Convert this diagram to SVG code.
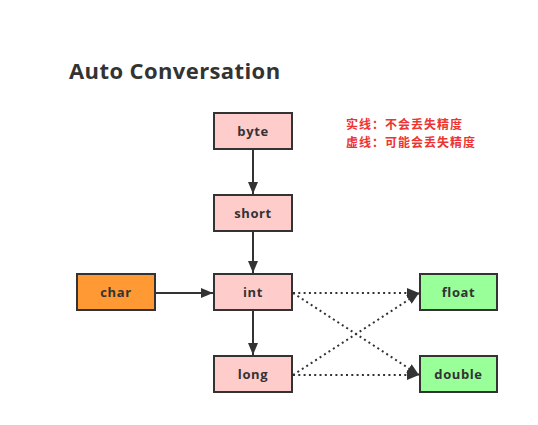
<svg xmlns="http://www.w3.org/2000/svg" width="538" height="425" viewBox="0 0 538 425">
<style>
.box{stroke:#333;stroke-width:2}
.pink{fill:#ffcccc}
.orange{fill:#ff9933}
.green{fill:#99ff99}
.lbl{font-family:"Open Sans","Noto Sans",sans-serif;font-weight:bold;font-size:13px;fill:#333;text-anchor:middle;letter-spacing:0.6px}
.title{font-family:"Open Sans","Noto Sans",sans-serif;font-weight:bold;font-size:22px;fill:#333;letter-spacing:0.4px}
.note{font-family:"Noto Sans CJK SC",sans-serif;font-weight:bold;font-size:12px;fill:#ee3333;letter-spacing:1px}
.solid{stroke:#333;stroke-width:2;fill:none}
.dot{stroke:#333;stroke-width:2;fill:none;stroke-dasharray:2 3.3}
</style>
<defs>
<marker id="arr" viewBox="0 0 12 10" refX="12" refY="5" markerWidth="12" markerHeight="10" markerUnits="userSpaceOnUse" orient="auto">
<path d="M0,0 L12,5 L0,10 Z" fill="#333"/>
</marker>
</defs>
<rect width="538" height="425" fill="#fff"/>
<text class="title" x="69" y="79">Auto Conversation</text>
<text class="note" x="346" y="129">实线：不会丢失精度</text>
<text class="note" x="346" y="146.6">虚线：可能会丢失精度</text>
<g id="connectors">
<line class="solid" x1="253" y1="150" x2="253" y2="194" marker-end="url(#arr)"/>
<line class="solid" x1="253" y1="232" x2="253" y2="273" marker-end="url(#arr)"/>
<line class="solid" x1="156" y1="293" x2="213" y2="293" marker-end="url(#arr)"/>
<line class="solid" x1="253" y1="311" x2="253" y2="355" marker-end="url(#arr)"/>
<line class="dot" x1="293" y1="293" x2="419" y2="293" marker-end="url(#arr)"/>
<line class="dot" x1="293" y1="293" x2="419" y2="375" marker-end="url(#arr)"/>
<line class="dot" x1="293" y1="375" x2="419" y2="293" marker-end="url(#arr)"/>
<line class="dot" x1="293" y1="375" x2="419" y2="375" marker-end="url(#arr)"/>
</g>
<g id="byte"><rect class="box pink" x="214" y="113" width="78" height="36"/><text class="lbl" x="253" y="136">byte</text></g>
<g id="short"><rect class="box pink" x="214" y="195" width="78" height="36"/><text class="lbl" x="253" y="218">short</text></g>
<g id="int"><rect class="box pink" x="214" y="274" width="78" height="36"/><text class="lbl" x="253" y="297">int</text></g>
<g id="long"><rect class="box pink" x="214" y="356" width="78" height="36"/><text class="lbl" x="253" y="379">long</text></g>
<g id="char"><rect class="box orange" x="77" y="274" width="78" height="36"/><text class="lbl" x="116" y="297">char</text></g>
<g id="float"><rect class="box green" x="420" y="274" width="77" height="36"/><text class="lbl" x="458.5" y="297">float</text></g>
<g id="double"><rect class="box green" x="420" y="356" width="77" height="36"/><text class="lbl" x="458.5" y="379">double</text></g>
</svg>
